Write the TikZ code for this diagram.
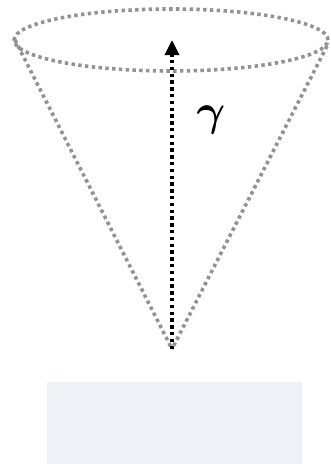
\documentclass[tikz,border=0pt]{standalone}
\usepackage{xcolor}
\usepackage{bm}
\usetikzlibrary{arrows.meta}
\definecolor{panelblue}{HTML}{EEF2F7}
\definecolor{dotgray}{HTML}{929292}

\begin{document}
\begin{tikzpicture}[x=1pt,y=-1pt,
    conedots/.style={dotgray,line width=3.6pt,dash pattern=on 3.4pt off 3.4pt},
    raydots/.style={black,line width=3.4pt,dash pattern=on 3.4pt off 3.4pt,-{Triangle[length=15pt,width=14pt]}}]
        \useasboundingbox (0,0) rectangle (330,464);
        % Cone
        \coordinate (apex) at (172,349);
        \coordinate (rimL) at (15,40);
        \coordinate (rimR) at (327,46);
        \coordinate (tip) at (172,40);
        \draw[conedots] (171,40) ellipse (157pt and 31pt);
        \draw[conedots] (rimL) -- (apex);
        \draw[conedots] (rimR) -- (apex);
        % Ray
        \draw[raydots] (apex) -- (tip);
        \node[scale=4.4,inner sep=0pt] (gamma) at (211,120) {$\bm{\gamma}$};
        % Base
        \fill[panelblue] (47,382) rectangle (302,464);
      \end{tikzpicture}
\end{document}
